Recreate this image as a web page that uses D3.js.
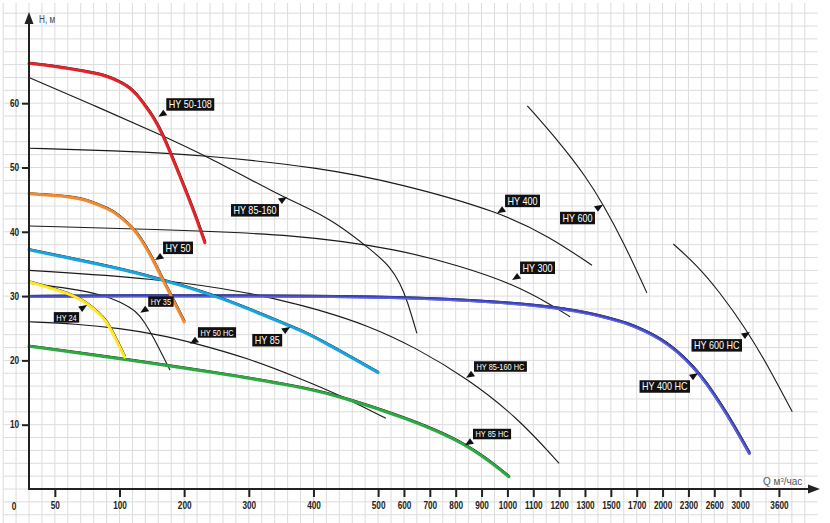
<!DOCTYPE html>
<html>
<head>
<meta charset="utf-8">
<script src="https://d3js.org/d3.v7.min.js"></script>
<style>
body{margin:0;background:#fff;}
text{font-family:"Liberation Sans Narrow","Arial Narrow","Liberation Sans",sans-serif;}
</style>
</head>
<body>
<script>
// axis ticks (Q is drawn on a broken scale, qCells = grid cell of every tick)
var qTicks = [50,100,200,300,400,500,600,700,800,900,1000,1100,1200,1300,1500,1700,2000,2300,2600,3000,3600];
var qCells = [2,7,12,17,22,27,29,31,33,35,37,39,41,43,45,47,49,51,53,55,58];
var hTicks = [10,20,30,40,50,60];

// colored curves [Q, H]
var hy50_108 = [[0,66.2],[46,65.8],[75,64.9],[88,64.4],[101,63.3],[116,62.4],[127,61.3],[139,59.7],[152,57.9],[167,55.1],[183,51.2],[204,46.0],[220,41.8],[232,38.3]];
var hy50 = [[0,45.9],[62,45.5],[75,44.9],[87,43.9],[94,43.3],[101,42.3],[114,41.2],[127,39.8],[139,37.9],[152,35.6],[167,32.5],[183,29.4],[200,26.0]];
var hy85 = [[0,37.2],[101,34.3],[167,32.5],[255,29.9],[359,25.5],[379,24.7],[410,23.2],[500,18.1]];
var hy24 = [[0,32.2],[62,30.4],[75,28.9],[87,26.8],[91,25.6],[95,24.2],[108,20.5]];
var hy85hc = [[0,22.2],[101,20.3],[255,18.0],[379,15.9],[441,14.4],[612,11.0],[844,7.1],[1006,1.9]];
var hy400hc = [[0,29.95],[101,30.06],[300,30.05],[584,29.9],[971,29.1],[1200,28.2],[1364,27.2],[1493,26.5],[1623,25.8],[1777,24.7],[1970,23.4],[2164,21.5],[2357,19.0],[2512,16.4],[2688,13.3],[2894,10.0],[3142,5.55]];

// thin black curves [Q, H]
var hy85_160 = [[0,64.0],[81,59.6],[163,55.1],[232,51.9],[353,45.4],[379,44.3],[430,41.8],[493,36.9],[546,34.6],[585,32.0],[612,29.4],[650,24.2]];
var hy400 = [[0,53.0],[101,52.6],[232,51.9],[410,50.0],[585,47.5],[971,43.1],[1164,39.2],[1354,34.8]];
var hy300 = [[0,40.9],[147,40.4],[379,39.6],[585,37.2],[817,34.7],[1022,31.9],[1176,28.5],[1242,26.8]];
var hy85_160hc = [[0,34.0],[152,32.8],[306,30.5],[379,28.6],[410,27.8],[483,25.5],[650,21.9],[844,17.2],[1037,11.2],[1200,4.0]];
var hy35 = [[0,32.0],[62,31.2],[87,30.2],[101,29.1],[127,27.6],[139,25.9],[152,23.7],[178,18.5]];
var hy50hc = [[0,26.0],[66,25.7],[101,25.0],[163,23.95],[212,22.8],[302,20.25],[379,17.2],[441,14.6],[530,11.0]];
var hy600 = [[1077,59.6],[1204,53.8],[1313,48.4],[1442,44.2],[1596,38.5],[1818,30.5]];
var hy600hc = [[2125,38.1],[2376,35.1],[2688,30.6],[3102,24.7],[3410,19.5],[3806,12.0]];

// curve labels, arrow tip on [Q, H]
var labelNames = ["HY 50-108","HY 85-160","HY 50","HY 35","HY 24","HY 50 HC","HY 85","HY 400","HY 600","HY 300","HY 85-160 HC","HY 85 HC","HY 600 HC","HY 400 HC"];
var labelQ = [160,359,155,132,75,209,364,960,1439,1018,840,836,3152,2411];
var labelH = [57.9,45.4,35.6,27.4,28.6,22.6,25.2,42.9,44.2,32.5,17.3,6.8,24.4,18.0];

var smallLabels = ["HY 35","HY 24","HY 50 HC","HY 85-160 HC","HY 85 HC"];
var boxLeftLabels = ["HY 85-160","HY 24","HY 85","HY 600","HY 600 HC","HY 400 HC"];

var width = 830, height = 523;
var x0 = 29, y0 = 489, cellW = 12.93, unitH = 6.43;
var narrow = 0.82;

var svg = d3.select("body").append("svg")
	.attr("width", width)
	.attr("height", height);

// squeeze text to a narrow face
var squeeze = function(sel){
	sel.each(function(){
		var w = this.getComputedTextLength();
		d3.select(this).attr("textLength", w*narrow).attr("lengthAdjust", "spacingAndGlyphs");
	});
};

var x = d3.scaleLinear()
	.domain([0].concat(qTicks, [4200]))
	.range([0].concat(qCells, [61]).map(function(c){ return x0 + c*cellW; }));

var y = d3.scaleLinear()
	.domain([0, 74])
	.range([y0, y0 - 74*unitH]);

// grid
var grid = svg.append("g");
grid.selectAll("line.v")
	.data(d3.range(-2, 61))
	.enter().append("line")
	.attr("x1", function(k){ return x0 + k*cellW; })
	.attr("x2", function(k){ return x0 + k*cellW; })
	.attr("y1", 3)
	.attr("y2", height)
	.attr("stroke", "#dcdcdc")
	.attr("stroke-width", 1);
grid.selectAll("line.h")
	.data(d3.range(-2, 38))
	.enter().append("line")
	.attr("x1", 3)
	.attr("x2", x0 + 61*cellW)
	.attr("y1", function(k){ return y(k*2); })
	.attr("y2", function(k){ return y(k*2); })
	.attr("stroke", "#dcdcdc")
	.attr("stroke-width", 1);

var line = d3.line()
	.x(function(d){ return x(d[0]); })
	.y(function(d){ return y(d[1]); })
	.curve(d3.curveBasis);

// thin black curves
var blackCurves = [hy85_160, hy400, hy300, hy85_160hc, hy35, hy50hc, hy600, hy600hc];
svg.append("g").selectAll("path")
	.data(blackCurves)
	.enter().append("path")
	.attr("d", line)
	.attr("fill", "none")
	.attr("stroke", "#1a1a1a")
	.attr("stroke-width", 1.1);

// colored curves with their thin black original
var colored = [
	{ data: hy85hc, color: "#2fa844" },
	{ data: hy400hc, color: "#3b42bd" },
	{ data: hy85, color: "#1ba3dd" },
	{ data: hy24, color: "#ffe81f" },
	{ data: hy50, color: "#f08a32" },
	{ data: hy50_108, color: "#e2242a" }
];
var cg = svg.append("g");
colored.forEach(function(s){
	cg.append("path")
		.attr("d", line(s.data))
		.attr("fill", "none")
		.attr("stroke", "#1a1a1a")
		.attr("stroke-width", 1)
		.attr("transform", "translate(1,-1)");
	cg.append("path")
		.attr("d", line(s.data))
		.attr("fill", "none")
		.attr("stroke", s.color)
		.attr("stroke-width", 3)
		.attr("stroke-linecap", "round");
	if (s.data === hy400hc) {
		cg.append("path")
			.attr("d", line(s.data))
			.attr("fill", "none")
			.attr("stroke", "#6168dc")
			.attr("stroke-width", 1.2)
			.attr("transform", "translate(0,1)");
	}
});

// axes
var xAxis = svg.append("g")
	.attr("transform", "translate(0," + y0 + ")")
	.call(d3.axisBottom(x).tickValues(qTicks).tickSize(8).tickPadding(5).tickFormat(d3.format("d")));
xAxis.select(".domain").remove();
xAxis.selectAll(".tick line").attr("stroke", "#222").attr("stroke-width", 2);
xAxis.selectAll(".tick text")
	.attr("fill", "#222")
	.style("font-size", "10px")
	.style("font-weight", "bold")
	.call(squeeze);

var yAxis = svg.append("g")
	.attr("transform", "translate(" + x0 + ",0)")
	.call(d3.axisLeft(y).tickValues(hTicks).tickSize(7).tickPadding(3).tickFormat(d3.format("d")));
yAxis.select(".domain").remove();
yAxis.selectAll(".tick line").attr("stroke", "#222").attr("stroke-width", 2);
yAxis.selectAll(".tick text")
	.attr("fill", "#222")
	.style("font-size", "10px")
	.style("font-weight", "bold")
	.call(squeeze);

svg.append("line")
	.attr("x1", x0).attr("x2", 810)
	.attr("y1", y0).attr("y2", y0)
	.attr("stroke", "#222").attr("stroke-width", 2);
svg.append("path")
	.attr("d", "M808,484.5L820,489L808,493.5Z")
	.attr("fill", "#222");
svg.append("line")
	.attr("x1", x0).attr("x2", x0)
	.attr("y1", y0 + 1).attr("y2", 22)
	.attr("stroke", "#222").attr("stroke-width", 2);
svg.append("path")
	.attr("d", "M24.5,24L29,12L33.5,24Z")
	.attr("fill", "#222");

svg.append("text")
	.text("0")
	.attr("x", 14).attr("y", 510)
	.attr("text-anchor", "middle")
	.attr("fill", "#222")
	.style("font-size", "10px")
	.style("font-weight", "bold")
	.call(squeeze);

svg.append("text")
	.text("H, м")
	.attr("x", 39).attr("y", 23)
	.attr("fill", "#444")
	.style("font-size", "10px")
	.call(squeeze);

var qTitle = svg.append("text")
	.attr("x", 763).attr("y", 485)
	.attr("fill", "#555")
	.style("font-size", "10px");
qTitle.append("tspan").text("Q м");
qTitle.append("tspan").text("3").attr("dy", -3).style("font-size", "6px");
qTitle.append("tspan").text("/час").attr("dy", 3);

// labels
var lg = svg.append("g");
labelNames.forEach(function(name, i){
	var tx = x(labelQ[i]), ty = y(labelH[i]);
	var small = smallLabels.indexOf(name) >= 0;
	var left = boxLeftLabels.indexOf(name) >= 0;
	var fs = small ? 9 : 11;
	var bh = small ? 10.5 : 12.5;

	var g = lg.append("g");
	var rect = g.append("rect").attr("fill", "#111");
	var t = g.append("text")
		.text(name)
		.attr("fill", "#fff")
		.style("font-size", fs + "px");
	var tw = t.node().getComputedTextLength()*narrow;
	t.attr("textLength", tw).attr("lengthAdjust", "spacingAndGlyphs");
	var bw = tw + 5;

	var bx, by;
	if (left) {
		bx = tx - 8 - bw;
		by = ty + 7;
		g.append("path")
			.attr("d", "M" + tx + "," + ty + "l-5,7l-4,-5.5z")
			.attr("fill", "#111");
	} else {
		bx = tx + 8;
		by = ty - 6 - bh;
		g.append("path")
			.attr("d", "M" + tx + "," + ty + "l5,-7l4,5.5z")
			.attr("fill", "#111");
	}
	rect.attr("x", bx).attr("y", by).attr("width", bw).attr("height", bh);
	t.attr("x", bx + 2.5).attr("y", by + bh - (small ? 2 : 2.5));
});
</script>
</body>
</html>
